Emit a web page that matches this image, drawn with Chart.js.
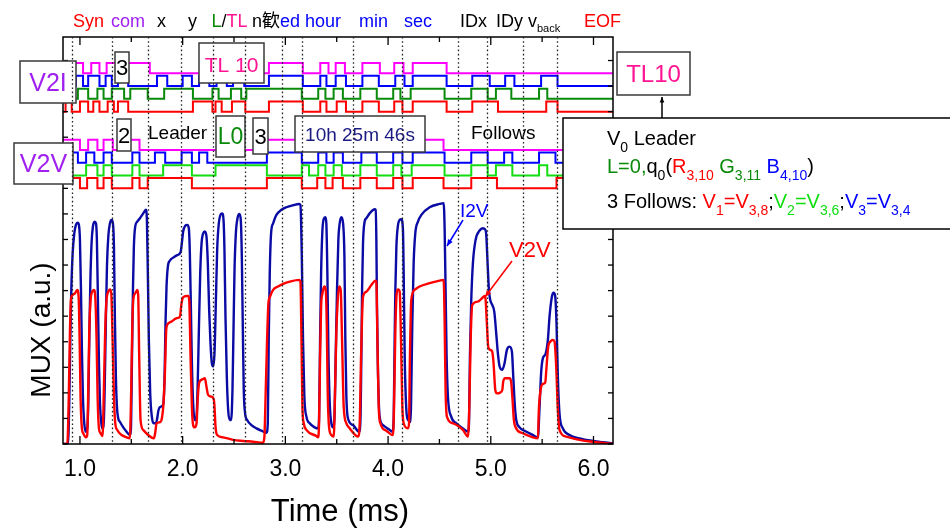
<!DOCTYPE html>
<html>
<head>
<meta charset="utf-8">
<script src="https://cdn.jsdelivr.net/npm/chart.js@4.4.1/dist/chart.umd.min.js"></script>
<style>
  html, body { margin: 0; padding: 0; background: #fff; }
  #wrap { width: 950px; height: 528px; position: relative; }
</style>
</head>
<body>
<div id="wrap"><canvas id="mux"></canvas></div>
<script>
const FONT = '"Liberation Sans", Arial, "Noto Sans CJK JP", sans-serif';

// time axis (ms)
const X_MIN = 0.835, X_MAX = 6.19;
const xTicks = [1.0, 2.0, 3.0, 4.0, 5.0, 6.0];
const xMinorTicks = [1.5, 2.5, 3.5, 4.5, 5.5];
const yTicks = [0, 1, 2, 3, 4, 5, 6, 7, 8, 9, 10, 11, 12, 13, 14, 15];

// frame field boundaries (ms)
const fieldEdges = [0.92, 1.31, 1.66, 1.98, 2.30, 2.61, 2.97, 3.16, 3.66, 4.14, 4.68, 4.96, 5.31, 5.64];

// bit streams: start level, then toggle times (ms). order: magenta, blue, green, red
const v2iStart = [1, 1, 0, 0];
const v2iMagentaEdges = [1.03, 1.11, 1.19, 1.26, 1.35, 1.45, 1.68, 2.84, 3.17, 3.34, 3.42, 3.49, 3.58, 3.75, 3.92, 4.06, 4.15, 4.24, 4.57];
const v2iBlueEdges = [0.88, 0.96, 1.03, 1.08, 1.19, 1.25, 1.31, 1.37, 1.47, 1.75, 1.85, 2.00, 2.09, 2.16, 2.26, 2.33, 2.43, 2.49, 2.60, 2.84, 3.17, 3.34, 3.40, 3.49, 3.59, 3.75, 3.91, 4.07, 4.16, 4.24, 4.57, 4.82, 4.99, 5.14, 5.23, 5.49, 5.65];
const v2iGreenEdges = [0.98, 1.08, 1.17, 1.23, 1.31, 1.43, 1.49, 1.66, 1.82, 2.10, 2.29, 2.35, 2.47, 2.57, 2.62, 3.16, 3.32, 3.39, 3.47, 3.56, 3.73, 3.89, 4.05, 4.12, 4.22, 4.55, 4.81, 4.97, 5.05, 5.20, 5.47, 5.55];
const v2iRedEdges = [0.86, 0.92, 1.00, 1.08, 1.13, 1.19, 1.27, 1.33, 1.37, 1.47, 2.10, 2.29, 2.32, 2.38, 2.48, 2.61, 2.84, 3.17, 3.34, 3.40, 3.50, 3.59, 3.75, 3.91, 4.06, 4.14, 4.24, 4.57, 4.82, 5.07, 5.54, 5.65];

const v2vStart = [1, 1, 0, 1];
const v2vMagentaEdges = [1.00, 1.08, 1.17, 1.23, 1.32, 1.43, 1.58, 2.73, 4.54];
const v2vBlueEdges = [0.98, 1.06, 1.14, 1.23, 1.31, 1.51, 1.58, 1.73, 1.83, 1.99, 2.09, 2.16, 2.24, 2.82, 3.16, 3.32, 3.40, 3.47, 3.56, 3.74, 3.89, 4.05, 4.14, 4.24, 4.55, 4.81, 4.97, 5.13, 5.21, 5.47, 5.63];
const v2vGreenEdges = [1.06, 1.17, 1.23, 1.31, 1.51, 1.58, 1.81, 2.09, 2.32, 2.82, 3.16, 3.23, 3.32, 3.39, 3.47, 3.55, 3.73, 3.89, 4.05, 4.13, 4.23, 4.55, 4.81, 4.97, 5.05, 5.21, 5.47, 5.55];
const v2vRedEdges = [1.00, 1.07, 1.17, 1.23, 1.31, 1.51, 1.58, 1.66, 2.09, 2.82, 3.16, 3.31, 3.39, 3.46, 3.56, 3.73, 3.89, 4.05, 4.14, 4.24, 4.54, 4.81, 5.06, 5.64];

// analog MUX output, [time ms, a.u.]
const i2vTrace = [
  [0.835,0],[0.883,0],[0.896,1.59],[0.906,4.07],[0.916,6.03],[0.929,7.46],[0.945,8.24],[0.961,8.57],[0.977,8.66],[0.990,8.57],
  [1.000,7.98],[1.010,6.03],[1.019,3.68],[1.029,1.85],[1.042,0.81],[1.058,0.48],[1.071,0.61],[1.081,1.59],[1.091,4.07],[1.101,6.29],
  [1.113,7.85],[1.126,8.50],[1.143,8.70],[1.156,8.63],[1.165,7.98],[1.175,5.63],[1.185,3.16],[1.195,1.59],[1.208,0.81],[1.220,0.61],
  [1.233,0.94],[1.243,2.63],[1.253,4.98],[1.263,6.94],[1.276,8.11],[1.292,8.63],[1.308,8.76],[1.321,8.63],[1.331,7.72],[1.340,4.98],
  [1.350,2.63],[1.360,1.46],[1.373,1.00],[1.389,0.87],[1.422,0.65],[1.454,0.48],[1.486,0.35],[1.496,0.55],[1.506,3.16],[1.516,6.03],
  [1.525,7.72],[1.538,8.50],[1.558,8.70],[1.584,8.83],[1.616,9.02],[1.642,9.16],[1.652,8.76],[1.661,6.68],[1.671,4.07],[1.684,1.98],
  [1.700,1.07],[1.723,0.81],[1.739,0.81],[1.752,1.00],[1.765,1.33],[1.788,1.46],[1.811,1.55],[1.824,2.63],[1.833,4.72],[1.843,6.16],
  [1.856,6.94],[1.875,7.17],[1.908,7.29],[1.947,7.39],[1.979,7.49],[1.992,7.85],[2.005,8.31],[2.025,8.54],[2.044,8.57],[2.060,8.44],
  [2.070,7.46],[2.080,5.37],[2.090,3.16],[2.102,1.59],[2.119,0.94],[2.132,0.94],[2.145,2.11],[2.158,4.46],[2.171,6.68],[2.184,7.85],
  [2.200,8.24],[2.216,8.31],[2.232,8.11],[2.245,7.07],[2.258,5.24],[2.271,3.94],[2.284,3.16],[2.297,3.03],[2.310,3.55],[2.323,5.50],
  [2.336,7.59],[2.352,8.63],[2.368,8.96],[2.385,9.02],[2.398,8.76],[2.407,7.59],[2.417,4.98],[2.430,2.63],[2.443,1.33],[2.459,0.94],
  [2.472,0.94],[2.485,2.11],[2.495,4.46],[2.505,6.81],[2.518,8.24],[2.534,8.83],[2.553,9.00],[2.566,8.76],[2.576,7.33],[2.586,4.46],
  [2.595,2.11],[2.608,1.20],[2.628,0.94],[2.670,0.74],[2.719,0.61],[2.767,0.52],[2.816,0.44],[2.829,0.81],[2.838,4.07],[2.848,6.68],
  [2.861,8.24],[2.881,8.63],[2.913,8.96],[2.962,9.16],[3.010,9.26],[3.075,9.34],[3.134,9.39],[3.147,9.35],[3.160,7.33],[3.172,4.07],
  [3.185,1.85],[3.205,1.07],[3.237,0.81],[3.286,0.65],[3.318,0.61],[3.328,0.94],[3.338,4.07],[3.348,6.68],[3.361,8.37],[3.377,8.83],
  [3.390,8.87],[3.399,8.63],[3.409,6.68],[3.419,3.68],[3.432,1.59],[3.448,0.81],[3.464,0.65],[3.477,0.94],[3.490,3.42],[3.503,6.03],
  [3.516,7.98],[3.529,8.63],[3.545,8.87],[3.562,8.63],[3.575,7.33],[3.584,4.07],[3.594,1.85],[3.610,1.00],[3.659,0.74],[3.717,0.48],
  [3.730,0.81],[3.740,3.42],[3.747,6.03],[3.756,7.85],[3.772,8.70],[3.789,8.83],[3.821,9.02],[3.870,9.18],[3.879,9.16],[3.886,7.98],
  [3.892,5.37],[3.902,2.76],[3.918,1.07],[3.951,0.74],[4.016,0.55],[4.042,0.48],[4.055,1.07],[4.064,4.07],[4.071,6.03],[4.081,7.72],
  [4.097,8.57],[4.113,8.76],[4.129,8.79],[4.145,8.37],[4.152,6.68],[4.162,3.42],[4.178,1.33],[4.194,0.94],[4.220,0.87],[4.226,2.11],
  [4.236,4.72],[4.249,7.07],[4.265,8.24],[4.291,8.70],[4.324,8.96],[4.405,9.26],[4.502,9.39],[4.541,9.42],[4.551,8.37],[4.560,6.03],
  [4.570,3.42],[4.583,1.85],[4.615,1.07],[4.664,0.81],[4.729,0.61],[4.778,0.48],[4.788,0.81],[4.797,3.42],[4.810,5.63],[4.826,7.07],
  [4.852,7.98],[4.891,8.35],[4.924,8.44],[4.943,8.40],[4.956,8.18],[4.969,7.07],[4.982,6.03],[4.995,5.63],[5.014,5.44],[5.034,5.18],
  [5.053,4.33],[5.069,3.55],[5.086,3.03],[5.112,2.90],[5.134,3.16],[5.157,3.68],[5.183,3.81],[5.206,3.61],[5.219,2.63],[5.235,1.46],
  [5.248,0.94],[5.280,0.65],[5.329,0.52],[5.410,0.35],[5.459,0.26],[5.475,1.46],[5.491,2.83],[5.507,3.35],[5.533,3.52],[5.556,4.07],
  [5.572,4.98],[5.595,5.76],[5.611,5.92],[5.627,5.79],[5.640,4.72],[5.653,2.63],[5.669,1.20],[5.702,0.61],[5.767,0.35],[5.864,0.22],
  [5.994,0.12],[6.091,0.07],[6.188,0.03]
];

const v2vTrace = [
  [0.835,0],[0.877,0],[0.890,1.59],[0.903,4.46],[0.912,5.63],[0.929,5.83],[0.951,5.89],[0.974,6.03],[0.987,5.76],[0.997,4.07],
  [1.006,1.85],[1.019,0.61],[1.032,0.42],[1.058,0.26],[1.071,0.35],[1.081,2.11],[1.091,4.46],[1.104,5.63],[1.120,5.96],[1.136,6.03],
  [1.149,5.76],[1.162,4.07],[1.172,1.85],[1.185,0.61],[1.201,0.42],[1.220,0.31],[1.233,2.11],[1.246,4.46],[1.259,5.63],[1.276,5.96],
  [1.292,6.05],[1.305,5.89],[1.318,4.07],[1.331,1.85],[1.344,0.81],[1.363,0.55],[1.405,0.35],[1.454,0.26],[1.486,0.22],[1.499,2.11],
  [1.509,4.46],[1.519,5.63],[1.538,5.89],[1.558,6.03],[1.567,5.83],[1.577,3.42],[1.590,0.94],[1.616,0.55],[1.665,0.35],[1.720,0.22],
  [1.733,0.44],[1.746,0.81],[1.778,0.85],[1.794,0.94],[1.811,1.46],[1.827,2.76],[1.840,4.46],[1.850,4.66],[1.892,4.79],[1.940,4.92],
  [1.973,4.98],[1.989,5.50],[2.005,5.74],[2.038,5.79],[2.054,5.79],[2.064,5.63],[2.077,3.42],[2.090,1.46],[2.102,0.74],[2.119,0.65],
  [2.135,0.81],[2.148,1.85],[2.161,2.40],[2.193,2.53],[2.216,2.57],[2.232,2.24],[2.248,1.92],[2.281,1.85],[2.303,1.75],[2.310,1.46],
  [2.320,0.68],[2.336,0.35],[2.394,0.26],[2.492,0.16],[2.589,0.12],[2.686,0.09],[2.783,0.05],[2.796,0.29],[2.809,2.11],[2.822,4.07],
  [2.835,5.50],[2.848,5.74],[2.881,6.03],[2.929,6.16],[2.978,6.26],[3.043,6.35],[3.134,6.42],[3.147,6.35],[3.157,4.07],[3.166,1.46],
  [3.179,0.81],[3.205,0.55],[3.302,0.31],[3.318,0.26],[3.328,0.81],[3.338,3.42],[3.348,5.37],[3.361,5.89],[3.380,6.16],[3.393,6.03],
  [3.403,4.72],[3.412,2.11],[3.425,0.68],[3.448,0.35],[3.471,0.29],[3.484,2.11],[3.497,4.46],[3.510,5.63],[3.523,6.16],[3.539,6.03],
  [3.552,4.07],[3.568,1.46],[3.594,0.81],[3.627,0.61],[3.708,0.29],[3.724,0.81],[3.737,3.42],[3.747,4.98],[3.756,5.76],[3.789,5.96],
  [3.837,6.22],[3.879,6.39],[3.886,6.35],[3.896,4.07],[3.909,1.46],[3.925,0.81],[3.983,0.52],[4.048,0.35],[4.058,1.46],[4.071,4.46],
  [4.084,5.89],[4.097,6.05],[4.113,5.96],[4.126,4.07],[4.139,1.46],[4.152,0.81],[4.194,0.61],[4.204,0.81],[4.213,3.42],[4.226,5.63],
  [4.259,6.03],[4.307,6.16],[4.405,6.29],[4.502,6.39],[4.541,6.42],[4.551,4.72],[4.560,2.11],[4.573,1.07],[4.632,0.81],[4.729,0.55],
  [4.778,0.29],[4.791,1.46],[4.804,4.07],[4.820,5.44],[4.875,5.57],[4.924,5.74],[4.940,5.79],[4.950,5.63],[4.962,4.72],[4.975,3.81],
  [4.995,3.68],[5.014,3.61],[5.027,3.16],[5.044,2.11],[5.060,1.98],[5.092,2.01],[5.112,2.11],[5.121,2.44],[5.141,2.57],[5.183,2.57],
  [5.199,2.40],[5.212,1.72],[5.225,0.94],[5.248,0.61],[5.313,0.42],[5.410,0.26],[5.459,0.22],[5.468,1.33],[5.485,2.11],[5.507,2.35],
  [5.530,2.40],[5.543,3.03],[5.559,3.81],[5.579,4.00],[5.605,4.07],[5.621,4.00],[5.637,3.03],[5.653,1.33],[5.669,0.55],[5.734,0.29],
  [5.864,0.16],[6.026,0.07],[6.188,0]
];

// lane layout for the bit streams (a.u.)
const V2I_LANES = [14.5, 14.0, 13.5, 13.0];
const V2V_LANES = [11.5, 11.0, 10.5, 10.0];
const BIT_H = 0.4;

const RED = '#ff0000', BLUE = '#0000ff', MAGENTA = '#ff00ff', DKGREEN = '#0a8a0a',
      LIME = '#11dd11', VIOLET = '#a020f0', PINK = '#ff1493', NAVY = '#0a0aa5';

function bitTrace(start, edges, base, color) {
  let level = start;
  const pts = [{ x: X_MIN, y: base + level * BIT_H }];
  for (const t of edges) {
    level = 1 - level;
    pts.push({ x: t, y: base + level * BIT_H });
  }
  pts.push({ x: X_MAX, y: base + level * BIT_H });
  return { data: pts, borderColor: color, borderWidth: 2, stepped: 'before', pointRadius: 0 };
}

function analogTrace(rows, color) {
  return {
    data: rows.map(([x, y]) => ({ x, y })),
    borderColor: color, borderWidth: 2.4, pointRadius: 0,
    cubicInterpolationMode: 'monotone'
  };
}

const datasets = [
  bitTrace(v2iStart[0], v2iMagentaEdges, V2I_LANES[0], MAGENTA),
  bitTrace(v2iStart[1], v2iBlueEdges, V2I_LANES[1], BLUE),
  bitTrace(v2iStart[2], v2iGreenEdges, V2I_LANES[2], DKGREEN),
  bitTrace(v2iStart[3], v2iRedEdges, V2I_LANES[3], RED),
  bitTrace(v2vStart[0], v2vMagentaEdges, V2V_LANES[0], MAGENTA),
  bitTrace(v2vStart[1], v2vBlueEdges, V2V_LANES[1], BLUE),
  bitTrace(v2vStart[2], v2vGreenEdges, V2V_LANES[2], LIME),
  bitTrace(v2vStart[3], v2vRedEdges, V2V_LANES[3], RED),
  analogTrace(v2vTrace, RED),
  analogTrace(i2vTrace, NAVY)
];

// text runs with optional subscripts
function runs(ctx, x, y, parts, size, subSize, subDy) {
  for (const p of parts) {
    const fs = p.sub ? subSize : size;
    ctx.font = fs + 'px ' + FONT;
    ctx.fillStyle = p.c || '#000';
    ctx.fillText(p.t, x, y + (p.sub ? subDy : 0));
    x += ctx.measureText(p.t).width;
  }
  return x;
}

function line(ctx, x0, y0, x1, y1) {
  ctx.beginPath(); ctx.moveTo(x0, y0); ctx.lineTo(x1, y1); ctx.stroke();
}

function box(ctx, x0, y0, x1, y1, stroke) {
  ctx.fillStyle = '#fff';
  ctx.fillRect(x0, y0, x1 - x0, y1 - y0);
  ctx.strokeStyle = stroke || '#3a3a3a';
  ctx.lineWidth = 1.5;
  ctx.strokeRect(x0, y0, x1 - x0, y1 - y0);
}

function boxText(ctx, cx, baseline, text, color, size) {
  ctx.font = size + 'px ' + FONT;
  ctx.fillStyle = color;
  ctx.textAlign = 'center';
  ctx.fillText(text, cx, baseline);
  ctx.textAlign = 'left';
}

function arrow(ctx, x0, y0, x1, y1, color, head) {
  ctx.strokeStyle = color; ctx.fillStyle = color; ctx.lineWidth = 1.5;
  line(ctx, x0, y0, x1, y1);
  const a = Math.atan2(y1 - y0, x1 - x0);
  ctx.beginPath();
  ctx.moveTo(x1, y1);
  ctx.lineTo(x1 - head * Math.cos(a - 0.4), y1 - head * Math.sin(a - 0.4));
  ctx.lineTo(x1 - head * Math.cos(a + 0.4), y1 - head * Math.sin(a + 0.4));
  ctx.closePath();
  ctx.fill();
}

const decor = {
  id: 'decor',
  afterDatasetsDraw(chart) {
    const { ctx, chartArea: a, scales: { x, y } } = chart;
    ctx.save();
    ctx.textBaseline = 'alphabetic';

    // frame with inward ticks on all four sides
    ctx.strokeStyle = '#000';
    ctx.lineWidth = 1.5;
    ctx.strokeRect(a.left, a.top, a.right - a.left, a.bottom - a.top);
    ctx.lineWidth = 1.3;
    for (const v of xTicks) {
      const px = x.getPixelForValue(v);
      line(ctx, px, a.bottom, px, a.bottom - 8);
      line(ctx, px, a.top, px, a.top + 8);
    }
    for (const v of xMinorTicks) {
      const px = x.getPixelForValue(v);
      line(ctx, px, a.bottom, px, a.bottom - 5);
      line(ctx, px, a.top, px, a.top + 5);
    }
    for (const v of yTicks) {
      const py = y.getPixelForValue(v);
      line(ctx, a.left, py, a.left + 5, py);
      line(ctx, a.right, py, a.right - 5, py);
    }

    // labelled boxes over the bit streams
    box(ctx, 20, 61, 76, 103);
    boxText(ctx, 48, 91, 'V2I', VIOLET, 25);
    box(ctx, 14, 143, 73, 184);
    boxText(ctx, 43.5, 172, 'V2V', VIOLET, 25);
    box(ctx, 115, 52, 129, 83);
    boxText(ctx, 122, 75, '3', '#000', 22);
    box(ctx, 199, 43, 264, 83);
    boxText(ctx, 231.5, 72, 'TL 10', PINK, 21);
    box(ctx, 117, 119, 131, 151);
    boxText(ctx, 124, 143, '2', '#000', 22);
    box(ctx, 216, 116, 245, 157);
    boxText(ctx, 230.5, 144, 'L0', DKGREEN, 23);
    box(ctx, 253, 118, 268, 154);
    boxText(ctx, 260.5, 144, '3', '#000', 22);
    box(ctx, 295, 116, 425, 152);
    boxText(ctx, 360, 141, '10h 25m 46s', '#1a1a80', 19);
    ctx.font = '19px ' + FONT;
    ctx.fillStyle = '#000';
    ctx.fillText('Leader', 148, 139);
    ctx.fillText('Follows', 471, 139);

    // dotted field guides
    ctx.save();
    ctx.strokeStyle = '#222';
    ctx.lineWidth = 1.3;
    ctx.setLineDash([1.6, 2.6]);
    for (const v of fieldEdges) {
      const px = Math.round(x.getPixelForValue(v)) + 0.5;
      line(ctx, px, a.top, px, a.bottom);
    }
    ctx.restore();

    // curve labels
    ctx.font = '19px ' + FONT;
    ctx.fillStyle = BLUE;
    ctx.fillText('I2V', 460, 217);
    arrow(ctx, 463, 220, 447, 246, BLUE, 7);
    ctx.font = '22px ' + FONT;
    ctx.fillStyle = RED;
    ctx.fillText('V2V', 509, 257);
    arrow(ctx, 512, 261, 485, 297, RED, 7);

    // field names above the frame
    const hs = 18;
    runs(ctx, 73, 27, [{ t: 'Syn', c: RED }], hs);
    runs(ctx, 111, 27, [{ t: 'com', c: VIOLET }], hs);
    runs(ctx, 157, 27, [{ t: 'x' }], hs);
    runs(ctx, 188, 27, [{ t: 'y' }], hs);
    runs(ctx, 211.5, 27, [{ t: 'L', c: DKGREEN }, { t: '/' }, { t: 'TL', c: PINK }], hs);
    runs(ctx, 252, 27, [{ t: 'n' }, { t: '歓' }, { t: 'ed hour', c: BLUE }], hs);
    runs(ctx, 359, 27, [{ t: 'min', c: BLUE }], hs);
    runs(ctx, 404, 27, [{ t: 'sec', c: BLUE }], hs);
    runs(ctx, 460, 27, [{ t: 'IDx' }], hs);
    runs(ctx, 496, 27, [{ t: 'IDy' }], hs);
    runs(ctx, 528, 27, [{ t: 'v' }, { t: 'back', sub: true }], hs, 11, 5);
    runs(ctx, 584, 27, [{ t: 'EOF', c: RED }], hs);

    // tick labels and axis titles
    ctx.font = '23px ' + FONT;
    ctx.fillStyle = '#000';
    ctx.textAlign = 'center';
    for (const v of xTicks) ctx.fillText(v.toFixed(1), x.getPixelForValue(v), 476);
    ctx.font = '31px ' + FONT;
    ctx.fillText('Time (ms)', (a.left + a.right) / 2 + 2, 521);
    ctx.save();
    ctx.translate(50, 330);
    ctx.rotate(-Math.PI / 2);
    ctx.font = '28px ' + FONT;
    ctx.fillText('MUX (a.u.)', 0, 0);
    ctx.restore();
    ctx.textAlign = 'left';

    // packet summary on the right
    box(ctx, 617, 52, 690, 95);
    boxText(ctx, 653.5, 82, 'TL10', PINK, 24);
    arrow(ctx, 662, 118, 662, 97, '#000', 6);
    box(ctx, 563, 118, 960, 229, '#000');
    const fs = 20, ss = 14, sd = 7;
    runs(ctx, 607, 145, [{ t: 'V' }, { t: '0', sub: true }, { t: ' Leader' }], fs, ss, sd);
    runs(ctx, 607, 173, [
      { t: 'L=0,', c: DKGREEN }, { t: 'q' }, { t: '0', sub: true }, { t: '(' },
      { t: 'R', c: RED }, { t: '3,10', c: RED, sub: true },
      { t: ' G', c: DKGREEN }, { t: '3,11', c: DKGREEN, sub: true },
      { t: ' B', c: BLUE }, { t: '4,10', c: BLUE, sub: true }, { t: ')' }
    ], fs, ss, sd);
    runs(ctx, 607, 208, [
      { t: '3 Follows: ' },
      { t: 'V', c: RED }, { t: '1', c: RED, sub: true }, { t: '=V', c: RED }, { t: '3,8', c: RED, sub: true },
      { t: ';' },
      { t: 'V', c: LIME }, { t: '2', c: LIME, sub: true }, { t: '=V', c: LIME }, { t: '3,6', c: LIME, sub: true },
      { t: ';' },
      { t: 'V', c: BLUE }, { t: '3', c: BLUE, sub: true }, { t: '=V', c: BLUE }, { t: '3,4', c: BLUE, sub: true }
    ], fs, ss, sd);

    ctx.restore();
  }
};

Chart.defaults.font.family = FONT;

new Chart(document.getElementById('mux'), {
  type: 'scatter',
  data: { datasets },
  options: {
    responsive: true,
    maintainAspectRatio: false,
    animation: false,
    showLine: true,
    layout: { padding: { left: 63, top: 37, right: 337, bottom: 84 } },
    plugins: { legend: { display: false }, tooltip: { enabled: false } },
    scales: {
      x: { type: 'linear', min: X_MIN, max: X_MAX, display: false },
      y: { type: 'linear', min: 0, max: 15.92, display: false }
    }
  },
  plugins: [decor]
});
</script>
</body>
</html>
